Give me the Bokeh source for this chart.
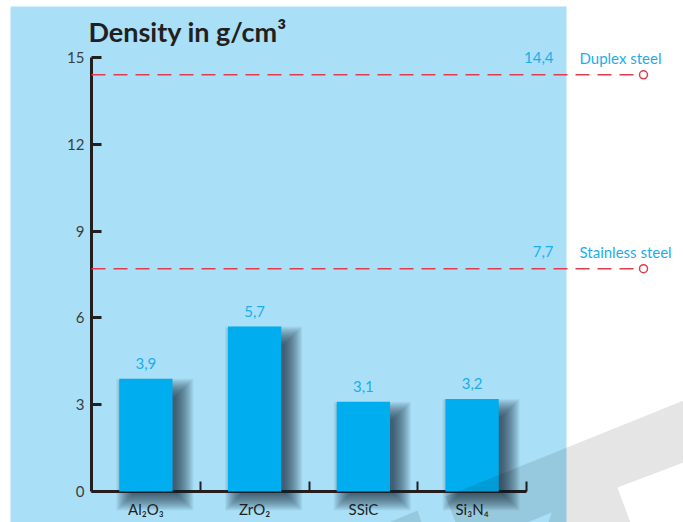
from bokeh.plotting import figure
from bokeh.models import BoxAnnotation, FixedTicker, Label, LinearAxis, Range1d
from bokeh.core.properties import value
from bokeh.embed import file_html
from bokeh.resources import INLINE

# --- data -----------------------------------------------------------------
materials = ["Al₂O₃", "ZrO₂", "SSiC", "Si₃N₄"]
density = [3.9, 5.7, 3.1, 3.2]
y_ticks = [0, 3, 6, 9, 12, 15]
steel_names = ["Duplex steel", "Stainless steel"]
steel_density = [14.4, 7.7]

# --- layout helpers (pixel grid of the 683 x 522 canvas) -------------------
W, H = 683, 522
X0_PX, SLOT_PX = 91, 108.75    # left edge of first slot, width of one slot
Y0_PX, UNIT_PX = 491, 28.933   # baseline, height of 1 g/cm³


def dx(px):
    return px / SLOT_PX


def dy(px):
    return px / UNIT_PX


def X(px):
    return -0.5 + (px - X0_PX) / SLOT_PX


def Y(px):
    return (Y0_PX - px) / UNIT_PX


FONT = "Lato"
DARK = "#231F20"
CYAN = "#1AAEEA"
RED = "#E03C4C"

p = figure(width=W, height=H,
           x_range=Range1d(X(0), X(W)), y_range=Range1d(Y(H), Y(0)),
           output_backend="svg", toolbar_location=None, min_border=0,
           x_axis_type=None, y_axis_type=None, outline_line_color=None,
           background_fill_color="white", border_fill_color="white")

# light blue panel behind the chart
p.add_layout(BoxAnnotation(left=X(10), right=X(566), top=Y(6), bottom=Y(H),
                           fill_color="#A9E0F8", fill_alpha=1.0,
                           line_color=None, level="image"))

# --- axes -----------------------------------------------------------------
yaxis = LinearAxis(fixed_location=-0.5, bounds=(0, max(y_ticks)),
                   ticker=FixedTicker(ticks=y_ticks, minor_ticks=[]),
                   level="underlay")
yaxis.axis_line_width = 3
yaxis.axis_line_color = DARK
yaxis.major_tick_line_width = 3
yaxis.major_tick_line_color = DARK
yaxis.major_tick_in = 10
yaxis.major_tick_out = 0
yaxis.minor_tick_line_color = None
yaxis.major_label_standoff = 7
yaxis.major_label_text_font = FONT
yaxis.major_label_text_font_size = "15px"
yaxis.major_label_text_color = "#3d3d3d"
p.add_layout(yaxis, "left")

slots = list(range(len(materials)))
xaxis = LinearAxis(fixed_location=0, bounds=(-0.5, len(materials) - 0.5),
                   ticker=FixedTicker(ticks=slots,
                                      minor_ticks=[s + 0.5 for s in slots]),
                   major_label_overrides={s: m for s, m in zip(slots, materials)},
                   level="underlay")
xaxis.axis_line_width = 3
xaxis.axis_line_color = DARK
xaxis.major_tick_in = 0
xaxis.major_tick_out = 0
xaxis.minor_tick_in = 10
xaxis.minor_tick_out = 0
xaxis.minor_tick_line_width = 2
xaxis.minor_tick_line_color = DARK
xaxis.major_label_standoff = 8
xaxis.major_label_text_font = FONT
xaxis.major_label_text_font_size = "15px"
xaxis.major_label_text_color = DARK
p.add_layout(xaxis, "below")

# --- soft drop shadows behind the bars ------------------------------------
BAR_W = 0.49
half = BAR_W / 2
for e in range(-6, 13):
    p.quad(left=[s - half + dx(9 - e) for s in slots],
           right=[s + half + dx(9 + e) for s in slots],
           top=[v - dy(12 - e) for v in density],
           bottom=[-dy(7 + e)] * len(slots),
           fill_color="#0E2533", fill_alpha=0.055, line_color=None)

# --- bars and value labels ------------------------------------------------
p.vbar(x=slots, top=density, bottom=0, width=BAR_W,
       fill_color="#00AEEF", line_color=None)
p.text(x=slots, y=density, text=[f"{v:.1f}".replace(".", ",") for v in density],
       text_align="center", text_baseline="alphabetic", y_offset=-15,
       text_color=CYAN, text_font=value(FONT), text_font_size="15px")

# --- steel reference lines ------------------------------------------------
ref_end = X(643)
p.segment(x0=-0.5, x1=ref_end, y0=steel_density, y1=steel_density,
          line_color=RED, line_width=1.5, line_dash="14 8")
p.scatter(x=[ref_end] * len(steel_density), y=steel_density, marker="circle",
          size=8, fill_color="white", line_color=RED, line_width=1.5)
p.text(x=[X(553)] * len(steel_density), y=steel_density,
       text=[f"{v:.1f}".replace(".", ",") for v in steel_density],
       text_align="right", text_baseline="alphabetic", y_offset=-17,
       text_color=CYAN, text_font=value(FONT), text_font_size="15px")
p.text(x=[X(579)] * len(steel_density), y=steel_density, text=steel_names,
       text_align="left", text_baseline="alphabetic", y_offset=-17,
       text_color=CYAN, text_font=value(FONT), text_font_size="15px")

# --- title ----------------------------------------------------------------
p.add_layout(Label(x=X(88), y=Y(31), text="Density in g/cm³",
                   text_font=FONT, text_font_style="bold",
                   text_font_size="27px", text_color=DARK,
                   text_baseline="alphabetic"))

# --- faint diagonal watermark strokes -------------------------------------
wm_px = [
    [(445, 496), (683, 400), (683, 462), (617, 487), (630, 522),
     (548, 522), (551, 512), (527, 522), (455, 522)],
    [(388, 522), (417, 510), (421, 522)],
]
p.patches(xs=[[X(a) for a, _ in poly] for poly in wm_px],
          ys=[[Y(b) for _, b in poly] for poly in wm_px],
          fill_color="black", fill_alpha=0.1, line_color=None)

open("out.html", "w").write(file_html(p, INLINE))
